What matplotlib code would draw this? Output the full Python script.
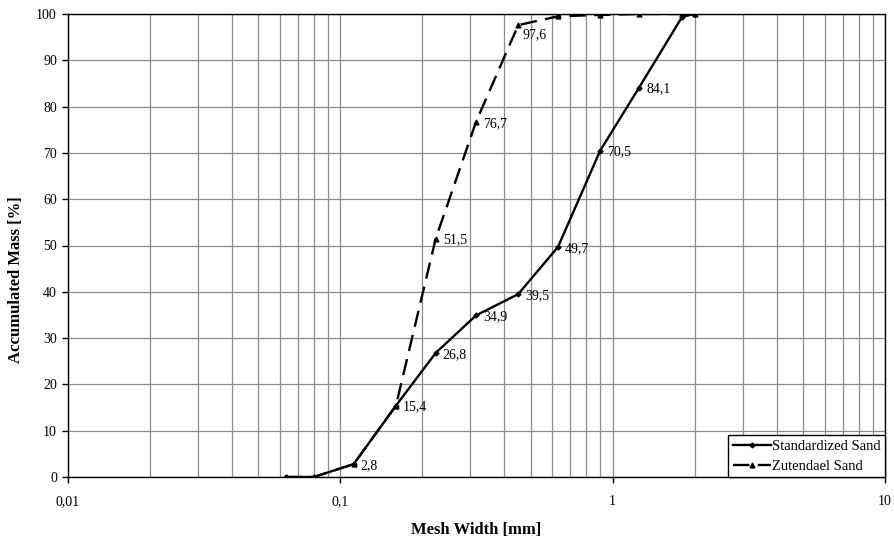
import matplotlib
matplotlib.use("Agg")
import matplotlib.pyplot as plt
from matplotlib.ticker import FixedLocator, FixedFormatter, LogLocator, NullFormatter

plt.rcParams['font.family'] = ['Liberation Serif', 'DejaVu Serif']

# sieve sizes [mm]
mesh = [0.063, 0.08, 0.112, 0.16, 0.224, 0.315, 0.45, 0.63, 0.9, 1.25, 1.8, 2.0]
standard = [0.0, 0.0, 2.8, 15.4, 26.8, 34.9, 39.5, 49.7, 70.5, 84.1, 99.4, 100.0]
zutendael = [0.0, 0.0, 2.8, 15.4, 51.5, 76.7, 97.6, 99.5, 99.8, 100.0, 100.0, 100.0]

# which points carry a value label
std_labels = [2, 3, 4, 5, 6, 7, 8, 9]
zut_labels = [4, 5, 6]

xticks = [0.01, 0.1, 1, 10]
xtick_labels = ["0,01", "0,1", "1", "10"]
yticks = list(range(0, 101, 10))

fig = plt.figure(figsize=(8.94, 5.4), dpi=100)
ax = fig.add_axes([68 / 894, 63 / 540, 817 / 894, 463 / 540])

grid_col = "#8c8c8c"
ax.plot(mesh, standard, color="black", lw=1.7, marker="D", ms=2.5,
        label="Standardized Sand", zorder=4)
ax.plot(mesh, zutendael, color="black", lw=1.7, dashes=(7, 3.5), marker="^",
        ms=3.5, label="Zutendael Sand", zorder=3)

ax.set_xscale("log")
ax.set_xlim(0.01, 10)
ax.set_ylim(0, 100)

ax.xaxis.set_major_locator(FixedLocator(xticks))
ax.xaxis.set_major_formatter(FixedFormatter(xtick_labels))
ax.xaxis.set_minor_locator(LogLocator(base=10, subs=range(2, 10)))
ax.xaxis.set_minor_formatter(NullFormatter())
ax.set_yticks(yticks)

ax.grid(True, which="major", color=grid_col, lw=0.9)
ax.grid(True, which="minor", axis="x", color=grid_col, lw=0.9)
ax.set_axisbelow(True)

ax.tick_params(axis="x", which="major", direction="out", length=4, width=1,
               pad=9, labelsize=10)
ax.tick_params(axis="x", which="minor", length=0)
ax.tick_params(axis="y", direction="out", length=4, width=1, pad=4, labelsize=10)

for s in ax.spines.values():
    s.set_color("black")
    s.set_linewidth(1.0)

for i in std_labels:
    ax.annotate(f"{standard[i]:.1f}".replace(".", ","), (mesh[i], standard[i]),
                xytext=(5, -1), textcoords="offset points", va="center",
                ha="left", fontsize=10)
for i in zut_labels:
    off = (3, -7) if i == 6 else (5, -1)
    ax.annotate(f"{zutendael[i]:.1f}".replace(".", ","), (mesh[i], zutendael[i]),
                xytext=off, textcoords="offset points", va="center",
                ha="left", fontsize=10)

fig.text(476 / 894, 1 - 530 / 540, "Mesh Width [mm]", ha="center", va="center",
         fontsize=12, fontweight="bold")
fig.text(16 / 894, 1 - 280 / 540, "Accumulated Mass [%]", ha="center", va="center",
         rotation=90, fontsize=12, fontweight="bold")

leg = ax.legend(loc="lower right", borderaxespad=0, fancybox=False,
                edgecolor="black", framealpha=1, fontsize=10.5, handlelength=2.6,
                handletextpad=0.1, labelspacing=0.45, borderpad=0.3)
leg.get_frame().set_linewidth(1.0)

fig.savefig("out.png", dpi=100)
